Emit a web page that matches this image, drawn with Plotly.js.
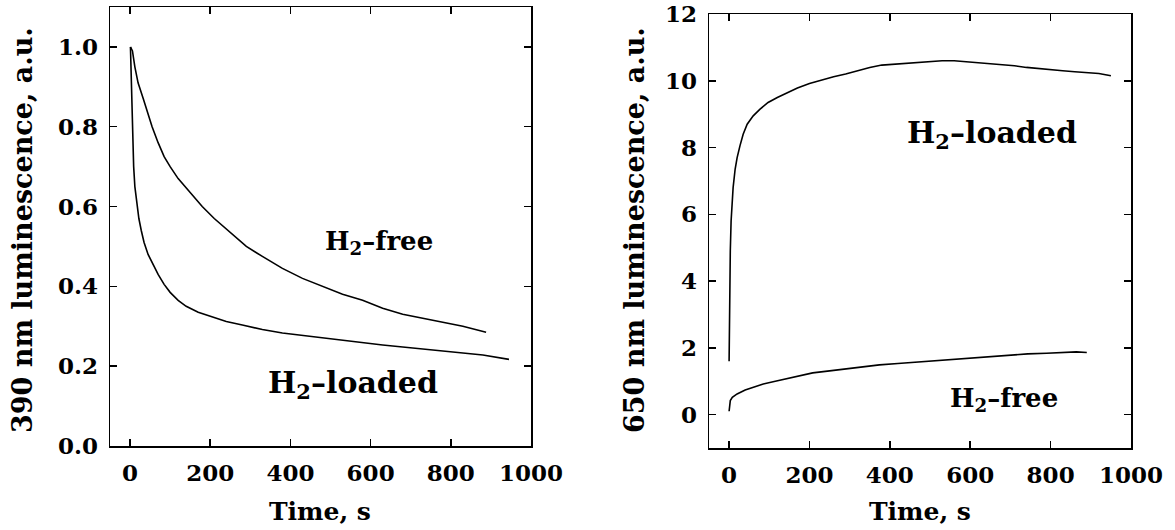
<!DOCTYPE html>
<html>
<head>
<meta charset="utf-8">
<script src="https://cdn.plot.ly/plotly-3.0.1.min.js"></script>
<style>html,body{margin:0;padding:0;background:#fff;} #chart{width:1175px;height:530px;}</style>
</head>
<body>
<div id="chart"></div>
<script>
// ---- Left panel: 390 nm luminescence ----
const leftFreeT = [1, 6, 12, 20, 33, 45, 55, 70, 85, 100, 120, 150, 180, 210, 250, 290, 330, 380, 430, 480, 530, 580, 630, 680, 730, 780, 830, 888];
const leftFreeY = [1.0, 0.99, 0.95, 0.91, 0.87, 0.83, 0.80, 0.76, 0.725, 0.70, 0.67, 0.635, 0.60, 0.57, 0.535, 0.50, 0.475, 0.445, 0.42, 0.40, 0.38, 0.365, 0.345, 0.33, 0.32, 0.31, 0.30, 0.285];
const leftLoadT = [1, 4, 6, 9, 12, 17, 22, 28, 35, 45, 55, 70, 85, 100, 120, 140, 170, 200, 240, 280, 330, 380, 430, 480, 530, 580, 630, 680, 730, 780, 830, 880, 945];
const leftLoadY = [1.0, 0.87, 0.76, 0.70, 0.65, 0.61, 0.57, 0.54, 0.51, 0.48, 0.46, 0.43, 0.405, 0.385, 0.365, 0.35, 0.335, 0.325, 0.312, 0.303, 0.292, 0.283, 0.277, 0.27, 0.264, 0.258, 0.253, 0.248, 0.243, 0.238, 0.233, 0.228, 0.217];

// ---- Right panel: 650 nm luminescence ----
const rightLoadT = [0, 1, 2, 3, 5, 7, 10, 15, 20, 27, 35, 45, 60, 77, 97, 120, 145, 170, 200, 230, 260, 290, 320, 350, 380, 410, 440, 470, 500, 530, 560, 590, 620, 650, 680, 710, 740, 770, 800, 830, 860, 890, 920, 950];
const rightLoadY = [1.6, 3.2, 4.3, 4.9, 5.8, 6.35, 6.8, 7.35, 7.7, 8.05, 8.4, 8.7, 8.95, 9.15, 9.35, 9.5, 9.65, 9.78, 9.92, 10.03, 10.12, 10.2, 10.3, 10.4, 10.47, 10.5, 10.52, 10.56, 10.58, 10.6, 10.6, 10.57, 10.55, 10.52, 10.48, 10.45, 10.4, 10.36, 10.33, 10.3, 10.27, 10.25, 10.22, 10.15];
const rightFreeT = [0, 1, 3, 8, 20, 40, 60, 85, 115, 151, 180, 208, 250, 292, 330, 374, 420, 473, 520, 563, 610, 653, 700, 743, 790, 840, 864, 890];
const rightFreeY = [0.1, 0.3, 0.42, 0.52, 0.62, 0.74, 0.83, 0.92, 1.0, 1.1, 1.17, 1.25, 1.31, 1.37, 1.43, 1.49, 1.53, 1.58, 1.62, 1.66, 1.71, 1.74, 1.78, 1.82, 1.84, 1.87, 1.88, 1.86];

const xTicks = [0, 200, 400, 600, 800, 1000];
const leftYTicks = [0, 0.2, 0.4, 0.6, 0.8, 1.0];
const rightYTicks = [0, 2, 4, 6, 8, 10, 12];

const FONT = "DejaVu Serif";
const lineStyle = {color: '#000', width: 1.6};

const traces = [
  {x: leftFreeT, y: leftFreeY, xaxis: 'x', yaxis: 'y', mode: 'lines', line: lineStyle, name: 'H2-free 390'},
  {x: leftLoadT, y: leftLoadY, xaxis: 'x', yaxis: 'y', mode: 'lines', line: lineStyle, name: 'H2-loaded 390'},
  {x: rightLoadT, y: rightLoadY, xaxis: 'x2', yaxis: 'y2', mode: 'lines', line: lineStyle, name: 'H2-loaded 650'},
  {x: rightFreeT, y: rightFreeY, xaxis: 'x2', yaxis: 'y2', mode: 'lines', line: lineStyle, name: 'H2-free 650'}
];

const axisCommon = {
  showline: true, linecolor: '#000', linewidth: 1.5, mirror: 'ticks',
  ticks: 'inside', ticklen: 7, tickwidth: 1.5, tickcolor: '#000',
  showgrid: false, zeroline: false,
  tickfont: {family: FONT, size: 23, color: '#000', weight: 'bold'}
};

const layout = {
  width: 1175, height: 530,
  margin: {l: 0, r: 0, t: 0, b: 0},
  paper_bgcolor: '#fff', plot_bgcolor: '#fff',
  showlegend: false,
  xaxis: Object.assign({}, axisCommon, {domain: [110/1175, 531/1175], range: [-50, 1000], tickvals: xTicks, anchor: 'y', ticklabelstandoff: 6}),
  yaxis: Object.assign({}, axisCommon, {domain: [1-446/530, 1-7/530], range: [0, 1.1], tickvals: leftYTicks, tickformat: '.1f', anchor: 'x', ticklabelstandoff: 6}),
  xaxis2: Object.assign({}, axisCommon, {domain: [709/1175, 1131/1175], range: [-50, 1000], tickvals: xTicks, anchor: 'y2', ticklabelstandoff: 6}),
  yaxis2: Object.assign({}, axisCommon, {domain: [1-448/530, 1-14/530], range: [-1, 12], tickvals: rightYTicks, anchor: 'x2', ticklabelstandoff: 6}),
  annotations: [
    {xref: 'paper', yref: 'paper', x: 22/1175, y: 1-230/530, xanchor: 'center', yanchor: 'middle', text: '390 nm luminescence, a.u.', textangle: -90, showarrow: false, font: {family: FONT, size: 27, color: '#000', weight: 'bold'}},
    {xref: 'paper', yref: 'paper', x: 634/1175, y: 1-230/530, xanchor: 'center', yanchor: 'middle', text: '650 nm luminescence, a.u.', textangle: -90, showarrow: false, font: {family: FONT, size: 27, color: '#000', weight: 'bold'}},
    {xref: 'paper', yref: 'paper', x: 320/1175, y: 1-511/530, xanchor: 'center', yanchor: 'middle', text: 'Time, s', showarrow: false, font: {family: FONT, size: 25, color: '#000', weight: 'bold'}},
    {xref: 'paper', yref: 'paper', x: 920/1175, y: 1-511/530, xanchor: 'center', yanchor: 'middle', text: 'Time, s', showarrow: false, font: {family: FONT, size: 25, color: '#000', weight: 'bold'}},
    {xref: 'x', yref: 'y', x: 621, y: 0.51, xanchor: 'center', yanchor: 'middle', text: 'H<sub>2</sub>–free', showarrow: false, font: {family: FONT, size: 26, color: '#000', weight: 'bold'}},
    {xref: 'x', yref: 'y', x: 556, y: 0.155, xanchor: 'center', yanchor: 'middle', text: 'H<sub>2</sub>–loaded', showarrow: false, font: {family: FONT, size: 30, color: '#000', weight: 'bold'}},
    {xref: 'x2', yref: 'y2', x: 654, y: 8.4, xanchor: 'center', yanchor: 'middle', text: 'H<sub>2</sub>–loaded', showarrow: false, font: {family: FONT, size: 30, color: '#000', weight: 'bold'}},
    {xref: 'x2', yref: 'y2', x: 684, y: 0.45, xanchor: 'center', yanchor: 'middle', text: 'H<sub>2</sub>–free', showarrow: false, font: {family: FONT, size: 26, color: '#000', weight: 'bold'}}
  ]
};

Plotly.newPlot('chart', traces, layout, {displayModeBar: false, staticPlot: true});
</script>
</body>
</html>
